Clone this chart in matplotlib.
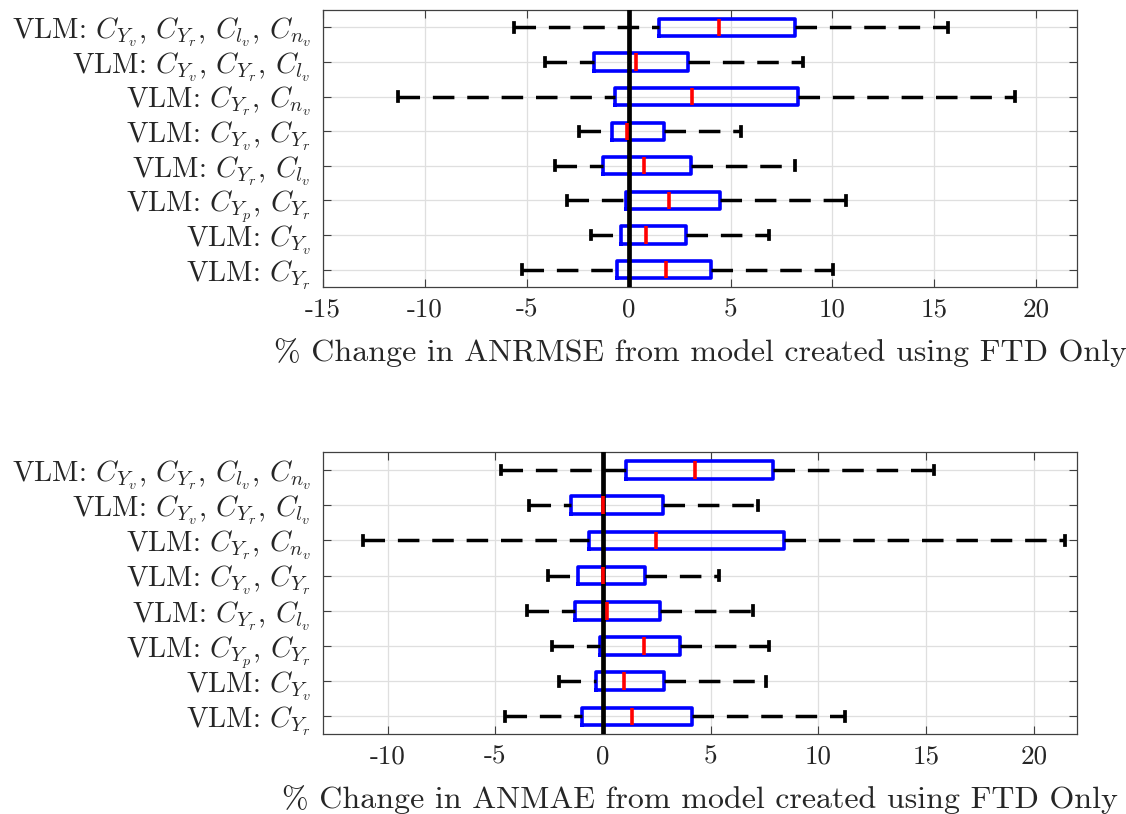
import matplotlib
matplotlib.use("Agg")
import matplotlib.pyplot as plt

plt.rcParams['font.family'] = ['cmr10', 'DejaVu Serif']
plt.rcParams['mathtext.fontset'] = 'cm'
plt.rcParams['axes.unicode_minus'] = False
plt.rcParams['axes.formatter.use_mathtext'] = True

# categories listed bottom -> top
labels = [
    r'VLM: $C_{Y_r}$',
    r'VLM: $C_{Y_v}$',
    r'VLM: $C_{Y_p}$, $C_{Y_r}$',
    r'VLM: $C_{Y_r}$, $C_{l_v}$',
    r'VLM: $C_{Y_v}$, $C_{Y_r}$',
    r'VLM: $C_{Y_r}$, $C_{n_v}$',
    r'VLM: $C_{Y_v}$, $C_{Y_r}$, $C_{l_v}$',
    r'VLM: $C_{Y_v}$, $C_{Y_r}$, $C_{l_v}$, $C_{n_v}$',
]

# ANRMSE (top panel), bottom -> top
rmse_lo  = [-5.25, -1.84, -3.05, -3.63, -2.45, -11.3, -4.13, -5.64]
rmse_q1  = [-0.55, -0.37, -0.11, -1.25, -0.83, -0.65, -1.72, 1.47]
rmse_med = [1.81, 0.83, 2.00, 0.74, -0.10, 3.09, 0.36, 4.45]
rmse_q3  = [4.04, 2.83, 4.46, 3.06, 1.75, 8.30, 2.93, 8.14]
rmse_hi  = [10.02, 6.88, 10.67, 8.14, 5.51, 18.97, 8.55, 15.67]

# ANMAE (bottom panel), bottom -> top
mae_lo  = [-4.55, -2.04, -2.38, -3.51, -2.55, -11.14, -3.46, -4.76]
mae_q1  = [-1.00, -0.35, -0.14, -1.30, -1.14, -0.65, -1.49, 1.07]
mae_med = [1.33, 0.98, 1.90, 0.20, 0.02, 2.48, -0.01, 4.29]
mae_q3  = [4.12, 2.85, 3.55, 2.65, 1.97, 8.40, 2.79, 7.91]
mae_hi  = [11.24, 7.58, 7.71, 6.94, 5.39, 21.45, 7.17, 15.35]

rmse_xticks = [-15, -10, -5, 0, 5, 10, 15, 20]
mae_xticks = [-10, -5, 0, 5, 10, 15, 20]
rmse_xlabel = '% Change in ANRMSE from model created using FTD Only'
mae_xlabel = '% Change in ANMAE from model created using FTD Only'

txt_col = '#262626'

fig = plt.figure(figsize=(11.26, 8.14), dpi=100)
ax1 = fig.add_axes([323/1126, 1-287/814, 754/1126, 277/814])
ax2 = fig.add_axes([323/1126, 1-734/814, 754/1126, 281.7/814])


def draw(ax, lo, q1, med, q3, hi, xticks, xlim, xlabel):
    stats = []
    for i in range(len(labels)):
        stats.append(dict(whislo=lo[i], q1=q1[i], med=med[i], q3=q3[i],
                          whishi=hi[i], fliers=[]))
    pos = list(range(1, len(labels) + 1))
    ax.axvline(0, color='black', lw=3.4, zorder=3)
    art = ax.bxp(stats, positions=pos, widths=0.5, orientation='horizontal',
                 capwidths=0.25, showfliers=False, patch_artist=False,
                 boxprops=dict(color='#0000ff', lw=2.6),
                 medianprops=dict(color='#ff0000', lw=2.6),
                 whiskerprops=dict(color='black', lw=2.5, linestyle=(0, (6.2, 3.7))),
                 capprops=dict(color='black', lw=2.7),
                 zorder=2)
    for b in art['boxes']:
        b.set_zorder(2)
    for m in art['medians']:
        m.set_zorder(4)
    for j, w in enumerate(art['whiskers']):
        w.set_zorder(2)
        if j % 2 == 0:
            w.set_xdata(w.get_xdata()[::-1])
            w.set_ydata(w.get_ydata()[::-1])
    ax.set_xlim(*xlim)
    ax.set_ylim(0.5, len(labels) + 0.5)
    ax.set_yticks(pos)
    ax.set_yticklabels(labels, fontsize=20.8, color=txt_col)
    ax.set_xticks(xticks)
    ax.set_xticklabels([str(t) for t in xticks], fontsize=19.5, color=txt_col)
    ax.grid(True, color='#dfdfdf', lw=0.9, zorder=0)
    ax.set_axisbelow(True)
    ax.tick_params(axis='both', direction='in', length=5.5, width=0.8,
                   top=True, right=True, color='#404040')
    ax.tick_params(axis='y', pad=9)
    ax.tick_params(axis='x', pad=8)
    for s in ax.spines.values():
        s.set_color('#404040')
        s.set_linewidth(0.9)
    ax.set_xlabel(xlabel, fontsize=23, color=txt_col, labelpad=12)


draw(ax1, rmse_lo, rmse_q1, rmse_med, rmse_q3, rmse_hi, rmse_xticks, (-15, 22), rmse_xlabel)
draw(ax2, mae_lo, mae_q1, mae_med, mae_q3, mae_hi, mae_xticks, (-13, 22), mae_xlabel)

fig.savefig('out.png', dpi=100)
